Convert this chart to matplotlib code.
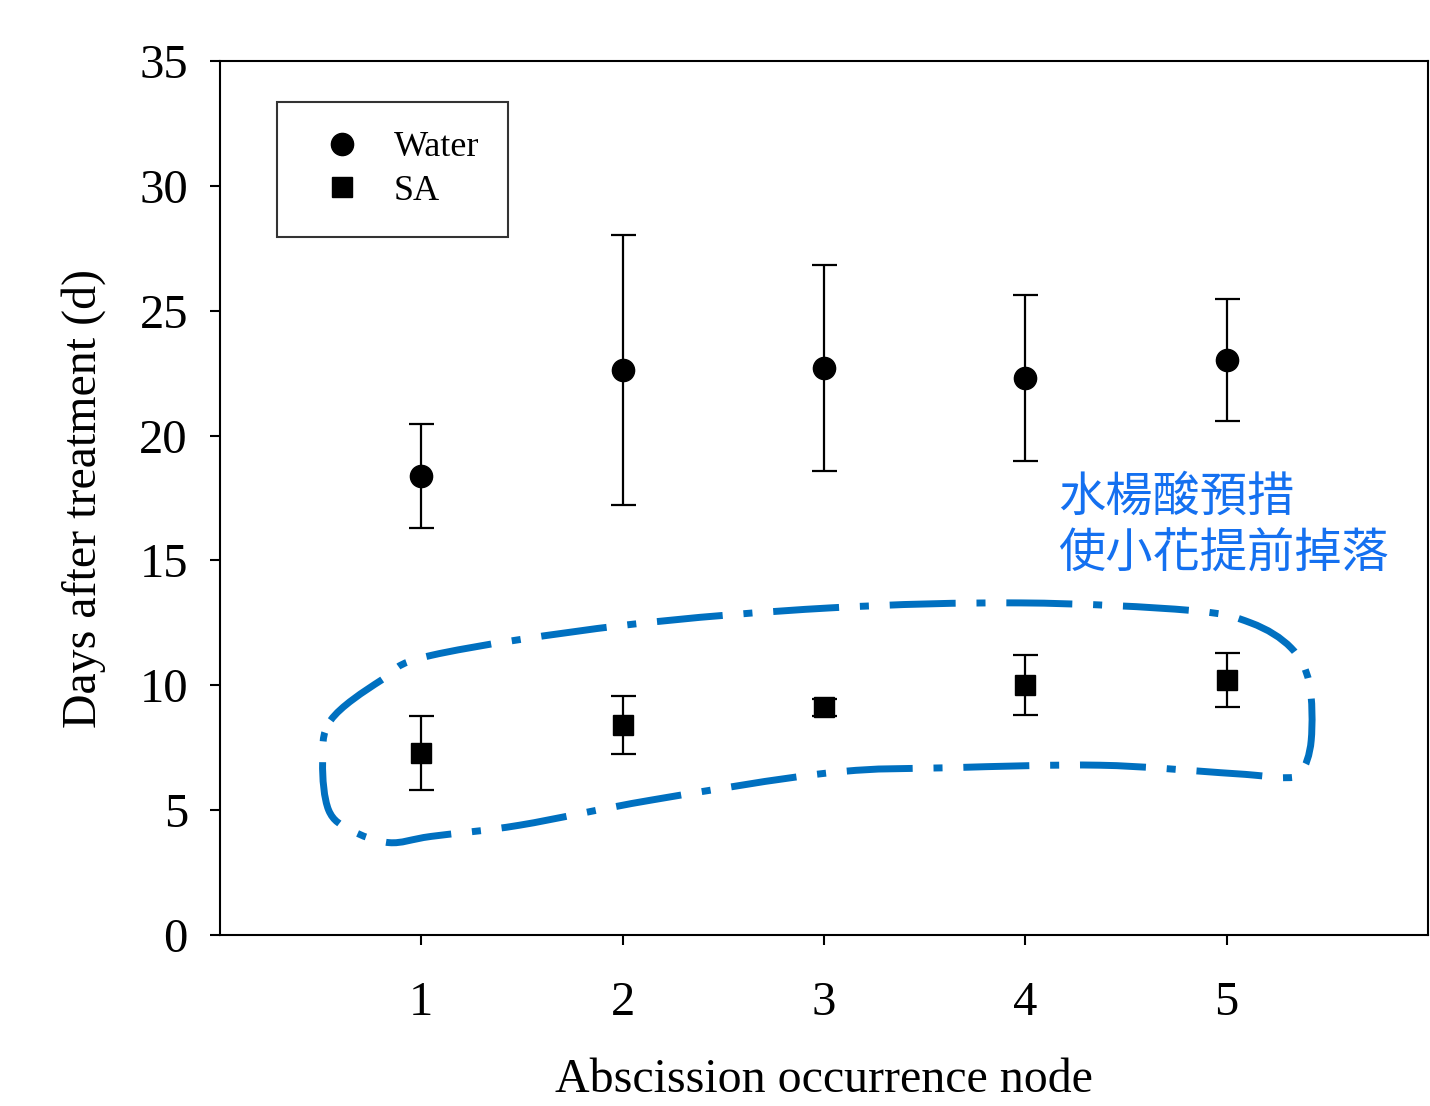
import matplotlib
matplotlib.use("Agg")
import matplotlib.pyplot as plt
import numpy as np
from matplotlib.lines import Line2D
from matplotlib.path import Path
from matplotlib.patches import PathPatch

nodes = [1, 2, 3, 4, 5]
water_mean = [18.38, 22.63, 22.71, 22.31, 23.03]
water_err = [2.08, 5.40, 4.12, 3.34, 2.46]
sa_mean = [7.29, 8.41, 9.13, 10.01, 10.21]
sa_err = [1.48, 1.18, 0.34, 1.20, 1.08]
yticks = [0, 5, 10, 15, 20, 25, 30, 35]
annotation = "水楊酸預措\n使小花提前掉落"

# outline of the hand-drawn loop around SA points (data coords)
loop_x = [0.55, 0.80, 1.05, 2.0, 3.03, 3.98, 4.82, 5.12, 5.32, 5.41, 5.42, 5.37, 5.29, 5.14, 4.97, 4.37, 3.63, 3.03, 2.14, 1.49, 1.05, 0.84, 0.65, 0.54, 0.51]
loop_y = [8.6, 10.2, 11.2, 12.4, 13.1, 13.3, 13.0, 12.5, 11.5, 10.1, 7.8, 6.5, 6.3, 6.4, 6.5, 6.8, 6.7, 6.5, 5.4, 4.4, 3.95, 3.7, 4.2, 5.0, 6.9]

plt.rcParams['font.family'] = ['Liberation Serif', 'DejaVu Serif']

fig = plt.figure(figsize=(14.3, 11.06), dpi=100)
ax = fig.add_axes([0.1538, 0.1546, 0.8448, 0.7902])

ax.errorbar(nodes, water_mean, yerr=water_err, fmt='o', color='black',
            markersize=16, elinewidth=1.6, capsize=9, capthick=1.6, zorder=3)
ax.errorbar(nodes, sa_mean, yerr=sa_err, fmt='s', color='black',
            markersize=14, elinewidth=1.6, capsize=9, capthick=1.6, zorder=3)

ax.set_xlim(0, 6)
ax.set_ylim(0, 35)
ax.set_xticks(nodes)
ax.set_yticks(yticks)
ax.tick_params(axis='both', labelsize=35, width=1.5, length=7, direction='out')
ax.tick_params(axis='x', pad=26)
ax.tick_params(axis='y', pad=16)
for s in ax.spines.values():
    s.set_linewidth(1.5)
ax.set_xlabel('Abscission occurrence node', fontsize=34.5, labelpad=24)
ax.set_ylabel('Days after treatment (d)', fontsize=34.5, labelpad=24)

handles = [Line2D([], [], marker='o', color='black', linestyle='none', markersize=16),
           Line2D([], [], marker='s', color='black', linestyle='none', markersize=14)]
leg = ax.legend(handles, ['Water', 'SA'], loc='upper left', bbox_to_anchor=(0.047, 0.953),
                borderaxespad=0, fontsize=26, frameon=True, fancybox=False,
                edgecolor='black', borderpad=0.8, handletextpad=0.45, labelspacing=0.28,
                handlelength=2.0)
leg.get_frame().set_linewidth(1.5)

# closed smooth loop via Catmull-Rom -> cubic Bezier
pts = np.column_stack([loop_x, loop_y])
n = len(pts)
verts = [pts[0]]
codes = [Path.MOVETO]
for i in range(n):
    p0, p1, p2, p3 = pts[i - 1], pts[i], pts[(i + 1) % n], pts[(i + 2) % n]
    c1 = p1 + (p2 - p0) / 6.0
    c2 = p2 - (p3 - p1) / 6.0
    verts += [c1, c2, p2]
    codes += [Path.CURVE4] * 3
patch = PathPatch(Path(verts, codes), facecolor='none', edgecolor='#0070C0',
                  linewidth=5.0, linestyle=(0, (9.5, 3.0, 1.3, 3.0)), zorder=2)
ax.add_patch(patch)

ax.text(4.164, 16.38, annotation, fontsize=34, color='#1470F0',
        family=['Noto Sans CJK TC', 'DejaVu Sans'], linespacing=1.2,
        ha='left', va='center')

fig.savefig('out.png', dpi=100)
